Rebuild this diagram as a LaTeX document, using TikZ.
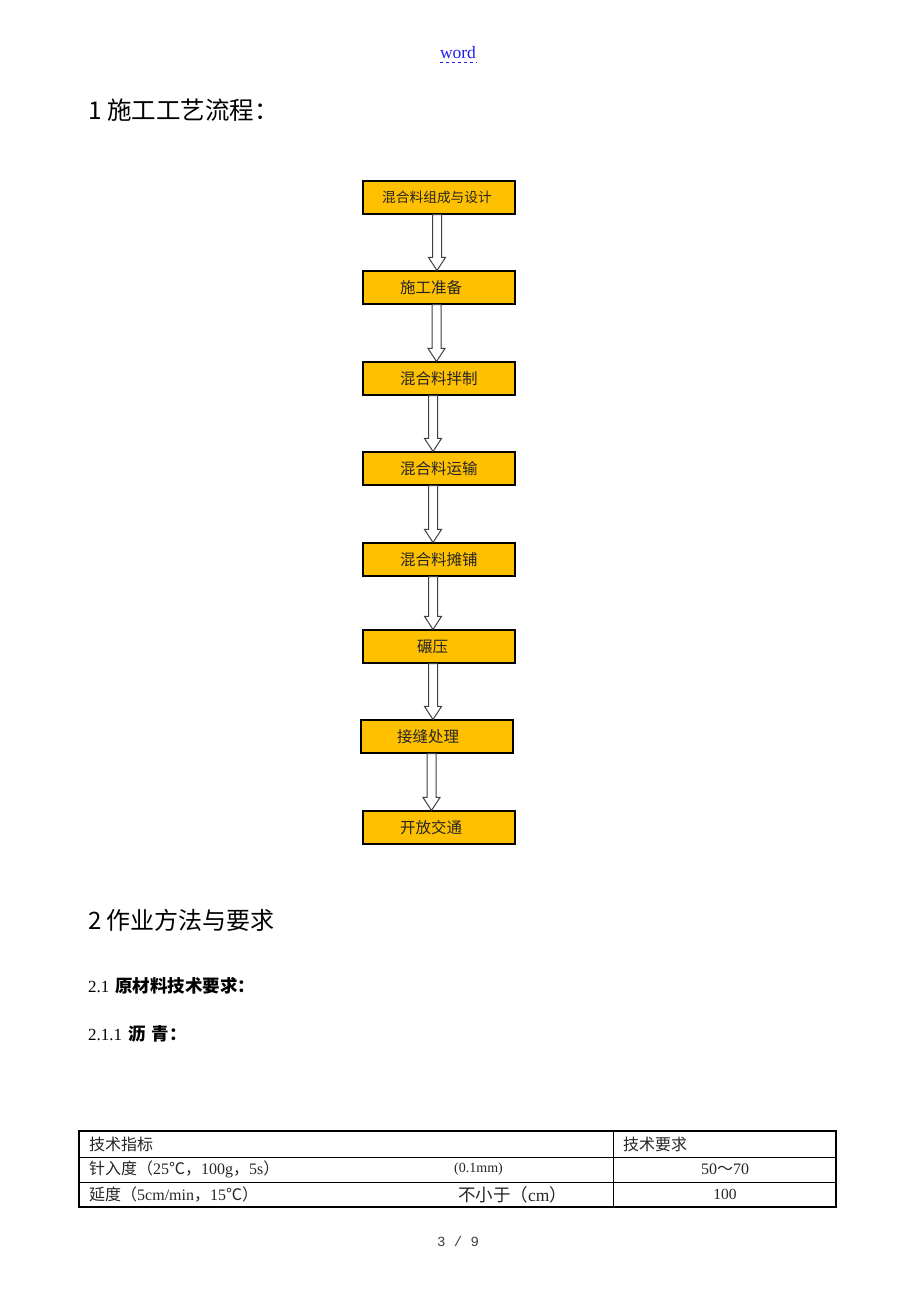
\documentclass[tikz,border=0pt]{standalone}
\usepackage{fontspec}
\usetikzlibrary{calc}
\setmainfont{Liberation Serif}
\setmonofont{Liberation Mono}
\newfontfamily\cjk{Noto Sans CJK SC}
\definecolor{boxfill}{HTML}{FFC000}
\definecolor{linkblue}{HTML}{2020F0}
\newcommand\lat[1]{{\rmfamily #1}}
\newcommand\blockarrow[3]{%
  \draw[arr] let \p1=(#1.south), \p2=(#2.north) in
    ({#3pt-4.5pt},\y1) -- ({#3pt+4.5pt},\y1) -- ({#3pt+4.5pt},\y2+13pt) --
    ({#3pt+8.5pt},\y2+13pt) -- ({#3pt},\y2) -- ({#3pt-8.5pt},\y2+13pt) --
    ({#3pt-4.5pt},\y2+13pt) -- cycle;}
\begin{document}
\begin{tikzpicture}[x=1pt,y=-1pt,
  box/.style={draw=black, line width=1.1pt, fill=boxfill, minimum width=152pt, minimum height=33pt, inner sep=0pt},
  btext/.style={anchor=west, inner sep=0pt, text=black!85, font=\cjk\fontsize{15.5}{15.5}\selectfont},
  arr/.style={draw=black!75, line width=1pt, fill=white, line join=miter},
  head/.style={anchor=west, inner sep=0pt, font=\cjk\fontsize{24.5}{24.5}\selectfont},
  subhead/.style={anchor=west, inner sep=0pt, font=\fontsize{17}{17}\selectfont},
  cell/.style={inner sep=0pt, font=\cjk\fontsize{16}{16}\selectfont, text=black!85},
  thin/.style={line width=0.8pt},
  thick/.style={line width=2pt}]
\useasboundingbox (0,0) rectangle (920,1302);
\fill[white] (0,0) rectangle (920,1302);

% header link
\node[inner sep=0pt, text=linkblue, font=\fontsize{17.5}{17.5}\selectfont] (word) at (458,53) {word};
\draw[linkblue, line width=0.7pt, dash pattern=on 3pt off 3pt] ([yshift=-3pt]word.south west) -- ([yshift=-3pt]word.south east);

% headings
\node[head] (h1) at (88,110) {1 施工工艺流程：};
\node[head, font=\cjk\fontsize{24}{24}\selectfont] (h2) at (88,920) {2 作业方法与要求};
\node[subhead] (h3) at (88,986) {2.1\hspace{6pt}{\cjk\bfseries\fontsize{17.5}{17.5}\selectfont 原材料技术要求：}};
\node[subhead] (h4) at (88,1034) {2.1.1\hspace{6pt}{\cjk\bfseries\fontsize{17.5}{17.5}\selectfont 沥\hspace{6pt}青：}};

% flow boxes
\node[box] (b1) at (439,197.5) {};
\node[box] (b2) at (439,287.5) {};
\node[box] (b3) at (439,378.5) {};
\node[box] (b4) at (439,468.5) {};
\node[box] (b5) at (439,559.5) {};
\node[box] (b6) at (439,646.5) {};
\node[box] (b7) at (437,736.5) {};
\node[box] (b8) at (439,827.5) {};

\node[btext, font=\cjk\fontsize{13.7}{13.7}\selectfont] (t1) at (382,197.5) {混合料组成与设计};
\node[btext] (t2) at (400,287.5) {施工准备};
\node[btext] (t3) at (400,378.5) {混合料拌制};
\node[btext] (t4) at (400,468.5) {混合料运输};
\node[btext] (t5) at (400,559.5) {混合料摊铺};
\node[btext] (t6) at (417,646.5) {碾压};
\node[btext] (t7) at (397,736.5) {接缝处理};
\node[btext] (t8) at (400,827.5) {开放交通};

% block arrows
\blockarrow{b1}{b2}{437}
\blockarrow{b2}{b3}{436.5}
\blockarrow{b3}{b4}{433}
\blockarrow{b4}{b5}{433}
\blockarrow{b5}{b6}{433}
\blockarrow{b6}{b7}{433}
\blockarrow{b7}{b8}{431.5}

% table
\draw[thin] (79,1157) -- (836,1157);
\draw[thin] (79,1182) -- (836,1182);
\draw[thin] (613,1131) -- (613,1207);
\draw[thick] (79,1131) rectangle (836,1207);

\node[cell, anchor=west] (c11) at (89,1144) {技术指标};
\node[cell, anchor=west] (c12) at (623,1144) {技术要求};
\node[cell, anchor=west] (c21) at (89,1169.5) {针入度（\lat{25}℃，\lat{100g}，\lat{5s}）};
\node[cell, anchor=west, font=\fontsize{14}{14}\selectfont] (c22) at (454,1169.5) {(0.1mm)};
\node[cell, font=\fontsize{16}{16}\selectfont] (c23) at (725,1169.5) {50{\cjk ～}70};
\node[cell, anchor=west] (c31) at (89,1194.5) {延度（\lat{5cm/min}，\lat{15}℃）};
\node[cell, anchor=west, font=\cjk\fontsize{17.5}{17.5}\selectfont] (c32) at (458,1194.5) {不小于（\lat{cm}）};
\node[cell, font=\fontsize{15.5}{15.5}\selectfont] (c33) at (725,1194.5) {100};

% page number
\node[inner sep=0pt, text=black!75, font=\ttfamily\fontsize{14}{14}\selectfont] (pg) at (458,1241) {3 / 9};
\end{tikzpicture}
\end{document}
